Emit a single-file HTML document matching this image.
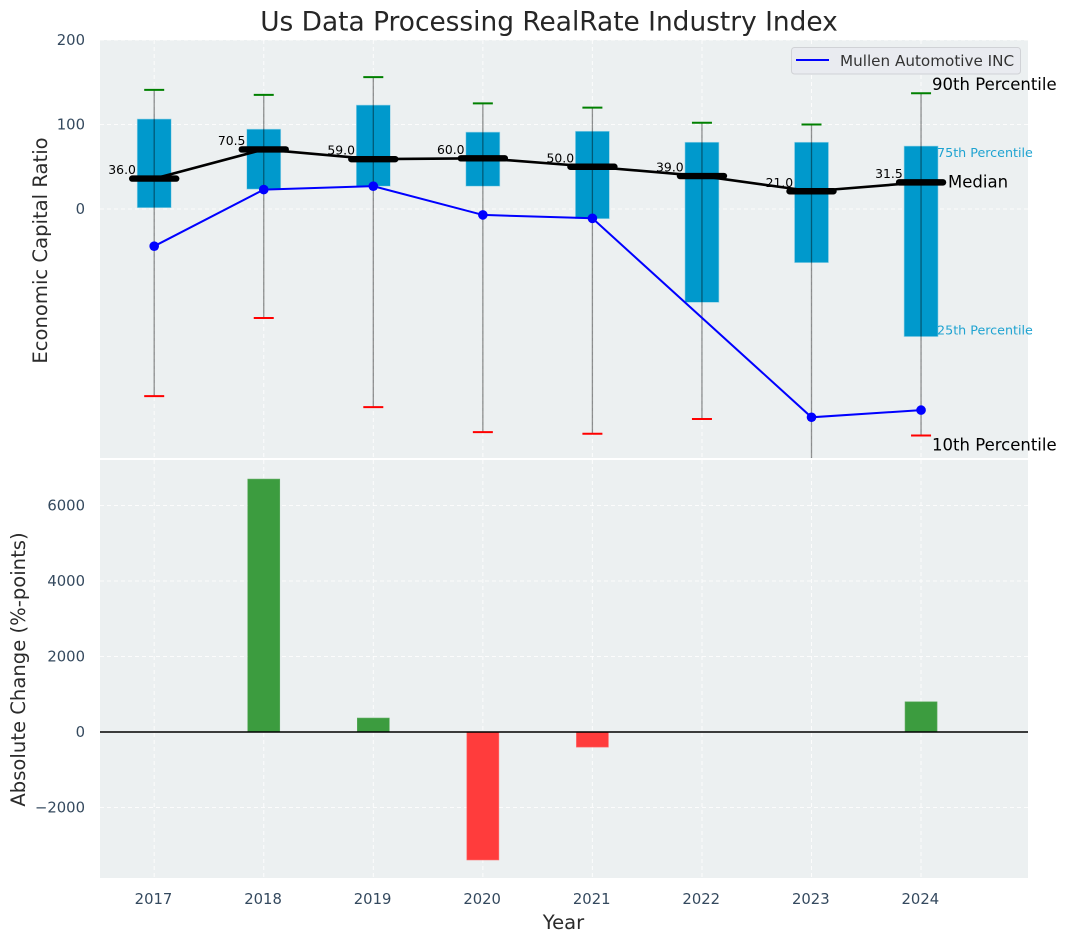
<!DOCTYPE html>
<html>
<head>
<meta charset="utf-8">
<title>Us Data Processing RealRate Industry Index</title>
<style>
html,body{margin:0;padding:0;background:#fff;width:1067px;height:942px;overflow:hidden}
svg{display:block;font-family:"DejaVu Sans","Liberation Sans",sans-serif}
</style>
</head>
<body>
<svg id="chart" xmlns="http://www.w3.org/2000/svg" width="1067" height="942" viewBox="0 0 1067 942">
  <defs><clipPath id="top-clip"><rect x="100" y="40" width="928" height="418"/></clipPath></defs>
  <rect x="100" y="40" width="928" height="418" fill="#ecf0f1"/>
  <rect x="100" y="460" width="928" height="418" fill="#ecf0f1"/>
  <g id="grid"></g>
  <g id="top-marks" clip-path="url(#top-clip)"></g>
  <g id="bottom-marks"></g>
  <g id="labels"></g>
  <text x="549" y="30.5" font-size="26.4" text-anchor="middle" fill="#262626">Us Data Processing RealRate Industry Index</text>
  <text transform="translate(47 250.5) rotate(-90)" font-size="19.6" text-anchor="middle" fill="#2b2b2b">Economic Capital Ratio</text>
  <text transform="translate(25 669.5) rotate(-90)" font-size="19.6" text-anchor="middle" fill="#2b2b2b">Absolute Change (%-points)</text>
  <text x="563.5" y="929" font-size="19.6" text-anchor="middle" fill="#2b2b2b">Year</text>
  <g>
    <rect x="791.5" y="47.5" width="229" height="26.5" rx="3" fill="#e9ebf0" stroke="#d0d2d6"/>
    <line x1="796" x2="829" y1="60" y2="60" stroke="#0000ff" stroke-width="2"/>
    <text x="840" y="66" font-size="15.2" fill="#333">Mullen Automotive INC</text>
  </g>
</svg>
<script>
const years = [2017, 2018, 2019, 2020, 2021, 2022, 2023, 2024];
const p90 = [141, 135, 156, 125, 120, 102, 100, 137];
const p75 = [106.5, 94.5, 123, 91, 92, 79, 79, 74.5];
const medians = [36, 70.5, 59, 60, 50, 39, 21, 31.5];
const p25 = [1.5, 23.5, 27, 27, -11.5, -110.5, -63.5, -151];
const p10 = [-221.5, -129, -234.5, -264, -266, -248.5, -310, -268];
const mullen = [-44, 23, 27, -7, -11, null, -246.5, -238];
const changes = [0, 6700, 370, -3390, -400, 0, 0, 800];
const topTicks = [200, 100, 0];
const bottomTicks = [6000, 4000, 2000, 0, -2000];

const NS = 'http://www.w3.org/2000/svg';
const xScale = v => 154.2 + (v - 2017) * 109.55;
const yTop = v => 209 - v * 0.845;
const yBottom = v => 732 - v * 0.03775;
const gridG = document.getElementById('grid');
const topG = document.getElementById('top-marks');
const botG = document.getElementById('bottom-marks');
const labG = document.getElementById('labels');

function mk(parent, tag, props, text) {
  const el = document.createElementNS(NS, tag);
  for (const k in props) el.setAttribute(k, props[k]);
  if (text !== undefined) el.textContent = text;
  parent.appendChild(el);
  return el;
}
const gridStyle = {stroke: '#fff', 'stroke-width': 1, 'stroke-dasharray': '4 3', opacity: 0.85};
const tickColor = '#34495e';

years.forEach(yr => {
  const x = xScale(yr);
  const a = mk(gridG, 'line', Object.assign({x1: x, x2: x, y1: 40, y2: 458}, gridStyle));
  
  
  const b = mk(gridG, 'line', Object.assign({x1: x, x2: x, y1: 460, y2: 878}, gridStyle));
  
  
  const t = mk(labG, 'text', {x: x - 0.7, y: 904, 'font-size': 14.8, 'text-anchor': 'middle', fill: tickColor}, String(yr));
  
  
});
topTicks.forEach(v => {
  const y = yTop(v);
  const g = mk(gridG, 'line', Object.assign({x1: 100, x2: 1028, y1: y, y2: y}, gridStyle));
  
  
  const t = mk(labG, 'text', {x: 85, y: y + 5, 'font-size': 14.8, 'text-anchor': 'end', fill: tickColor}, String(v));
  
  
});
bottomTicks.forEach(v => {
  const y = yBottom(v);
  const g = mk(gridG, 'line', Object.assign({x1: 100, x2: 1028, y1: y, y2: y}, gridStyle));
  
  
  const t = mk(labG, 'text', {x: 85, y: y + 5, 'font-size': 14.8, 'text-anchor': 'end', fill: tickColor}, String(v).replace('-', '\u2212'));
  
  
});

years.forEach((yr, i) => {
  const x = xScale(yr);
  const box = mk(topG, 'rect', {x: x - 17, width: 34, y: yTop(p75[i]), height: yTop(p25[i]) - yTop(p75[i]), fill: '#0099cc', stroke: '#9fd6e8', 'stroke-width': 0.6});
  
  
  const w = mk(topG, 'line', {x1: x, x2: x, y1: yTop(p90[i]), y2: yTop(p10[i]), stroke: '#000', 'stroke-opacity': 0.42, 'stroke-width': 1.3});
  
  
  const c1 = mk(topG, 'line', {x1: x - 10, x2: x + 10, y1: yTop(p90[i]), y2: yTop(p90[i]), stroke: '#008000', 'stroke-width': 2});
  
  
  const c2 = mk(topG, 'line', {x1: x - 10, x2: x + 10, y1: yTop(p10[i]), y2: yTop(p10[i]), stroke: '#ff0000', 'stroke-width': 2});
  
  
});

const medLine = mk(topG, 'polyline', {points: years.map((yr, i) => xScale(yr) + ',' + yTop(medians[i])).join(' '), fill: 'none', stroke: '#000', 'stroke-width': 2.6});



years.forEach((yr, i) => {
  const x = xScale(yr);
  const y = yTop(medians[i]);
  const m = mk(topG, 'line', {x1: x - 22, x2: x + 22, y1: y, y2: y, stroke: '#000', 'stroke-width': 6.4, 'stroke-linecap': 'round'});
  
  
  const t = mk(labG, 'text', {x: x - 18.3, y: y - 4.5, 'font-size': 12.4, 'text-anchor': 'end', fill: '#000'}, medians[i].toFixed(1));
  
  
});

const mullenPts = years.map((yr, i) => mullen[i] === null ? null : [xScale(yr), yTop(mullen[i])]).filter(Boolean);
const mLine = mk(topG, 'polyline', {points: mullenPts.map(p => p.join(',')).join(' '), fill: 'none', stroke: '#0000ff', 'stroke-width': 2});


years.forEach((yr, i) => {
  if (mullen[i] === null) return;
  const d = mk(topG, 'circle', {cx: xScale(yr), cy: yTop(mullen[i]), r: 4.8, fill: '#0000ff'});
  
  
});

years.forEach((yr, i) => {
  if (!changes[i]) return;
  const x = xScale(yr);
  const y0 = yBottom(0);
  const y1 = yBottom(changes[i]);
  const pos = changes[i] > 0;
  const b = mk(botG, 'rect', {x: x - 16, width: 32, y: Math.min(y0, y1), height: Math.abs(y1 - y0), fill: pos ? '#3c9c3f' : '#ff3c3c', stroke: pos ? '#5cab5e' : '#ff6a6a', 'stroke-width': 0.6});
  
  
});
const zero = mk(botG, 'line', {x1: 100, x2: 1028, y1: yBottom(0), y2: yBottom(0), stroke: '#000', 'stroke-width': 1.5});



const last = years.length - 1;
const lastX = xScale(years[last]);
const a90 = mk(labG, 'text', {x: lastX + 11, y: yTop(p90[last]) - 3, 'font-size': 16.5, fill: '#000'}, '90th Percentile');


const a75 = mk(labG, 'text', {x: lastX + 16, y: yTop(p75[last]) + 11, 'font-size': 12.7, fill: '#1fa3d1'}, '75th Percentile');


const aMed = mk(labG, 'text', {x: lastX + 27, y: yTop(medians[last]) + 5, 'font-size': 16.5, fill: '#000'}, 'Median');


const a25 = mk(labG, 'text', {x: lastX + 16, y: yTop(p25[last]) - 2, 'font-size': 12.7, fill: '#1fa3d1'}, '25th Percentile');


const a10 = mk(labG, 'text', {x: lastX + 11, y: yTop(p10[last]) + 15, 'font-size': 16.5, fill: '#000'}, '10th Percentile');


</script>
</body>
</html>
